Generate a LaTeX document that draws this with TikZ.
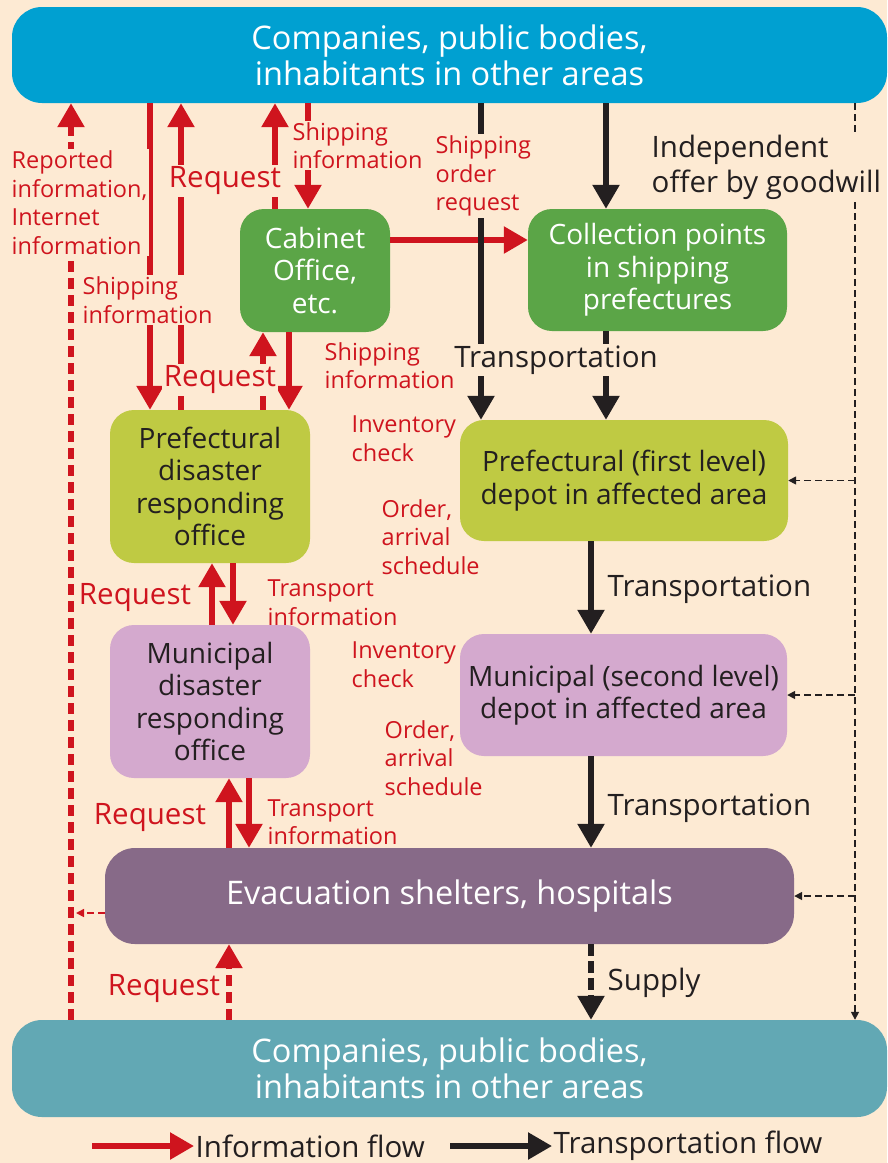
\documentclass[tikz,border=0pt]{standalone}
\usepackage{fontspec}
\setmainfont{Open Sans}
\usetikzlibrary{arrows.meta,positioning}

\definecolor{peach}{RGB}{253,234,211}
\definecolor{skyblue}{RGB}{0,160,209}
\definecolor{tealgrp}{RGB}{98,168,180}
\definecolor{leafgreen}{RGB}{91,165,71}
\definecolor{limegreen}{RGB}{191,202,67}
\definecolor{lilac}{RGB}{212,169,206}
\definecolor{plum}{RGB}{135,106,136}
\definecolor{infored}{RGB}{207,20,30}
\definecolor{darkline}{RGB}{35,31,32}

\tikzset{
  grp/.style={rounded corners=30pt, minimum width=875pt, inner sep=0pt, align=center, text=white, font=\fontsize{32.5}{36}\selectfont},
  office/.style={rounded corners=24pt, inner sep=0pt, align=center, font=\fontsize{28}{32.5}\selectfont},
  info/.style={draw=infored, line width=5.5pt, -{Triangle[length=24pt,width=26pt]}},
  infodash/.style={dash pattern=on 11pt off 6pt},
  trans/.style={draw=darkline, line width=5.5pt, -{Triangle[length=24pt,width=26pt]}},
  transdash/.style={dash pattern=on 12pt off 5pt},
  offer/.style={draw=darkline, line width=1.6pt, dash pattern=on 7pt off 4pt, -{Triangle[length=8pt,width=8pt]}},
  gap/.style={fill=peach},
  redlbl/.style={text=infored, inner sep=1.5pt, align=left, font=\fontsize{23.5}{28.5}\selectfont},
  reqlbl/.style={text=infored, fill=peach, inner sep=1.5pt, font=\fontsize{29.5}{32}\selectfont},
  blklbl/.style={text=darkline, inner sep=1.5pt, align=left, font=\fontsize{29.5}{35}\selectfont},
}

\begin{document}
\begin{tikzpicture}[x=1pt,y=-1pt,line join=round]
\useasboundingbox (0,0) rectangle (887,1163);
\fill[peach] (0,0) rectangle (887,1163);

% boxes
\node[grp, fill=skyblue, minimum height=96pt] (topgrp) at (449.5,55) {Companies, public bodies,\\inhabitants in other areas};
\node[grp, fill=tealgrp, minimum height=97pt] (botgrp) at (449.5,1068.5) {Companies, public bodies,\\inhabitants in other areas};
\node[office, fill=leafgreen, text=white, minimum width=150pt, minimum height=123pt] (cabinet) at (315,270.5) {Cabinet\\Office,\\etc.};
\node[office, fill=leafgreen, text=white, minimum width=259pt, minimum height=122pt] (collect) at (657.5,270) {Collection points\\in shipping\\prefectures};
\node[office, fill=limegreen, text=darkline, minimum width=200pt, minimum height=153pt] (prefoff) at (210,486.5) {Prefectural\\disaster\\responding\\office};
\node[office, fill=limegreen, text=darkline, minimum width=328pt, minimum height=121pt] (prefdepot) at (624,480.5) {Prefectural (first level)\\depot in affected area};
\node[office, fill=lilac, text=darkline, minimum width=200pt, minimum height=153pt] (munioff) at (210,701.5) {Municipal\\disaster\\responding\\office};
\node[office, fill=lilac, text=darkline, minimum width=327pt, minimum height=122pt] (munidepot) at (623.5,695) {Municipal (second level)\\depot in affected area};
\node[office, fill=plum, text=white, rounded corners=30pt, minimum width=689pt, minimum height=96pt, font=\fontsize{32.5}{36}\selectfont] (evac) at (449.5,896) {Evacuation shelters, hospitals};

% columns of the arrows
\coordinate (xrep) at (71,0);
\coordinate (xa) at (150,0);
\coordinate (xb) at (181,0);
\coordinate (xc) at (263,0);
\coordinate (xd) at (275,0);
\coordinate (xe) at (289,0);
\coordinate (xf) at (308,0);
\coordinate (xg) at (212,0);
\coordinate (xh) at (233,0);
\coordinate (xi) at (229,0);
\coordinate (xj) at (249,0);
\coordinate (xk) at (481,0);
\coordinate (xl) at (606,0);
\coordinate (xm) at (591,0);
\coordinate (xn) at (855,0);
\coordinate (yorder) at (0,240);
\coordinate (repjoin) at (76,913);

% information flow
\draw[info, infodash] (botgrp.north -| xrep) -- (topgrp.south -| xrep);
\draw[info] (topgrp.south -| xa) -- (prefoff.north -| xa);
\draw[info] (prefoff.north -| xb) -- (topgrp.south -| xb);
\draw[info] (cabinet.north -| xd) -- (topgrp.south -| xd);
\draw[info] (topgrp.south -| xf) -- (cabinet.north -| xf);
\draw[info] (cabinet.east |- yorder) -- (collect.west |- yorder);
\draw[info] (prefoff.north -| xc) -- (cabinet.south -| xc);
\draw[info] (cabinet.south -| xe) -- (prefoff.north -| xe);
\draw[info] (munioff.north -| xg) -- (prefoff.south -| xg);
\draw[info] (prefoff.south -| xh) -- (munioff.north -| xh);
\draw[info] (evac.north -| xi) -- (munioff.south -| xi);
\draw[info] (munioff.south -| xj) -- (evac.north -| xj);
\draw[info, infodash] (botgrp.north -| xi) -- (evac.south -| xi);
\draw[offer, draw=infored] (evac.west |- repjoin) -- (repjoin);

% transportation flow
\draw[trans] (topgrp.south -| xk) -- (prefdepot.north -| xk);
\draw[trans] (topgrp.south -| xl) -- (collect.north -| xl);
\draw[trans] (collect.south -| xl) -- (prefdepot.north -| xl);
\draw[trans] (prefdepot.south -| xm) -- (munidepot.north -| xm);
\draw[trans] (munidepot.south -| xm) -- (evac.north -| xm);
\draw[trans, transdash] (evac.south -| xm) -- (botgrp.north -| xm);
\draw[offer] (topgrp.south -| xn) -- (botgrp.north -| xn);
\draw[offer] (xn |- prefdepot.east) -- (prefdepot.east);
\draw[offer] (xn |- munidepot.east) -- (munidepot.east);
\draw[offer] (xn |- evac.east) -- (evac.east);

% labels
\node[redlbl, gap, anchor=west] (reported) at (10,202.5) {Reported\\information,\\Internet\\information};
\node[redlbl, gap, anchor=west] (shipleft) at (81,300) {Shipping\\information};
\node[reqlbl] (reqtop) at (225,181) {Request};
\node[redlbl, gap, anchor=west] (shiptop) at (291,145.5) {Shipping\\information};
\node[redlbl, gap, anchor=west] (shiporder) at (434,176) {Shipping\\order\\request};
\node[redlbl, anchor=west] (shipcab) at (323,365.5) {Shipping\\information};
\node[reqlbl] (reqcab) at (220,380) {Request};
\node[redlbl, anchor=west] (invone) at (350,438.5) {Inventory\\check};
\node[redlbl, anchor=west] (orderone) at (380,537) {Order,\\arrival\\schedule};
\node[reqlbl] (reqpref) at (135,598) {Request};
\node[redlbl, anchor=west] (tinfoone) at (266,602.5) {Transport\\information};
\node[redlbl, anchor=west] (invtwo) at (350,664.5) {Inventory\\check};
\node[redlbl, anchor=west] (ordertwo) at (383,758) {Order,\\arrival\\schedule};
\node[reqlbl] (reqmuni) at (150,818) {Request};
\node[redlbl, anchor=west] (tinfotwo) at (266,822) {Transport\\information};
\node[reqlbl] (reqevac) at (164,989) {Request};

\node[blklbl, gap, anchor=west] (goodwill) at (650,167.5) {Independent\\offer by goodwill};
\node[blklbl, gap] (transone) at (556,360) {Transportation};
\node[blklbl, anchor=west] (transtwo) at (606,589) {Transportation};
\node[blklbl, anchor=west] (transthree) at (606,808) {Transportation};
\node[blklbl, anchor=west] (supply) at (606,983) {Supply};

% legend
\coordinate (leginfostart) at (92,1146);
\coordinate (legtransstart) at (450,1146);
\node[blklbl, anchor=west] (leginfo) at (194,1146) {Information flow};
\node[blklbl, anchor=west] (legtrans) at (552,1146) {Transportation flow};
\draw[info] (leginfostart) -- (leginfo.west);
\draw[trans] (legtransstart) -- (legtrans.west);
\end{tikzpicture}
\end{document}
